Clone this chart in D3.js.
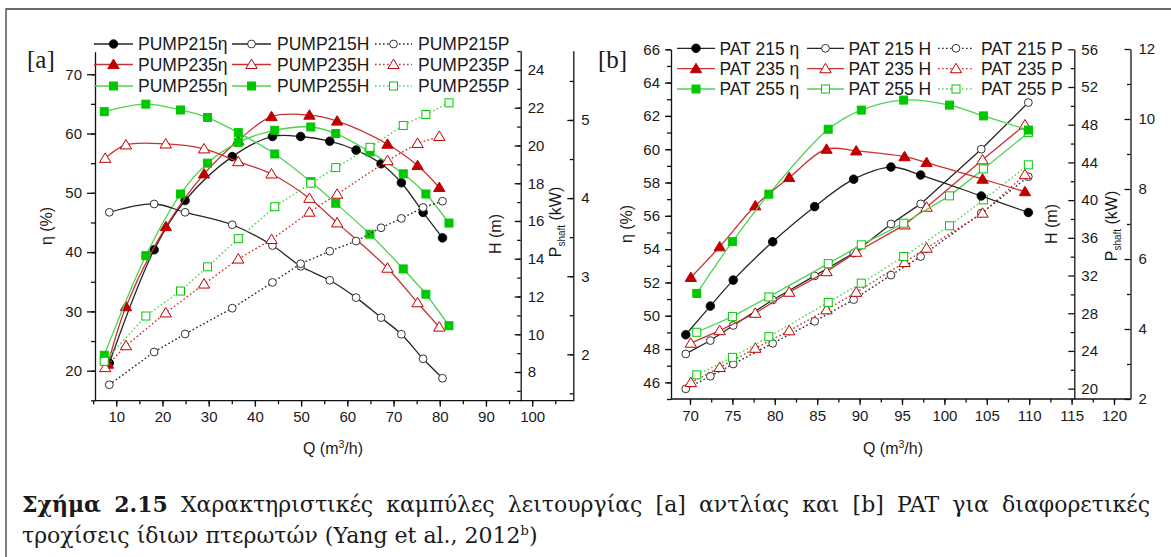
<!DOCTYPE html>
<html><head><meta charset="utf-8">
<script src="https://cdn.jsdelivr.net/npm/d3@7"></script>
<style>
body{margin:0;background:#fff;}
svg{display:block;}
text{font-family:"Liberation Sans",Arial,sans-serif;fill:#1a1a1a;}
text.serif{font-family:"Liberation Serif","Times New Roman",serif;}
text.cap{font-family:"DejaVu Serif","Liberation Serif",serif;}
</style>
</head><body>
<svg id="c" width="1171" height="557"></svg>
<script>
// ---------------- DATA: panel [a] pump ----------------
const qPump215 = [8.5, 18.2, 24.9, 35.1, 43.8, 49.9, 56.2, 61.9, 67.3, 71.7, 76.4, 80.6];
const etaPump215 = [21.3, 40.4, 48.7, 56.1, 59.5, 59.5, 58.7, 57.2, 54.9, 51.7, 46.7, 42.4];
const hPump215 = [16.46, 16.9, 16.46, 15.8, 14.7, 13.6, 12.86, 11.94, 10.88, 10.0, 8.7, 7.67];
const pPump215 = [1.61, 2.03, 2.26, 2.59, 2.92, 3.16, 3.32, 3.45, 3.62, 3.74, 3.88, 3.96];

const qPump235Eta = [8.2, 12.1, 20.75, 29.0, 36.4, 43.6, 51.8, 57.8, 68.7, 75.2, 79.9];
const etaPump235 = [21.1, 30.8, 44.3, 53.2, 58.8, 62.85, 63.1, 62.1, 58.2, 54.6, 50.9];
const qPump235 = [7.6, 12.1, 20.7, 29.0, 36.4, 43.6, 51.8, 57.8, 68.7, 75.2, 79.9];
const hPump235 = [19.32, 20.03, 20.08, 19.82, 19.14, 18.49, 17.2, 15.9, 13.5, 11.67, 10.38];
const pPump235 = [1.83, 2.11, 2.53, 2.90, 3.22, 3.47, 3.82, 4.05, 4.48, 4.70, 4.79];

const qPump255 = [7.4, 16.4, 23.9, 29.75, 36.4, 44.3, 52.1, 57.5, 64.9, 72.1, 77.0, 82.0];
const etaPump255 = [22.6, 39.4, 49.8, 55.0, 58.5, 60.55, 61.1, 60.0, 56.9, 53.2, 49.8, 44.9];
const hPump255 = [21.79, 22.19, 21.88, 21.48, 20.68, 19.55, 18.08, 16.94, 15.3, 13.46, 12.12, 10.45];
const pPump255 = [1.91, 2.49, 2.81, 3.12, 3.48, 3.89, 4.19, 4.39, 4.65, 4.93, 5.07, 5.22];

// ---------------- DATA: panel [b] PAT ----------------
const qPat215 = [69.5, 72.4, 75.1, 79.75, 84.7, 89.3, 93.7, 97.2, 104.35, 109.9];
const etaPat215 = [48.86, 50.58, 52.14, 54.44, 56.55, 58.2, 58.93, 58.45, 57.19, 56.2];
const hPat215 = [23.68, 25.1, 26.7, 29.41, 31.96, 34.37, 37.47, 39.6, 45.4, 50.35];
const pPat215 = [2.29, 2.65, 3.0, 3.59, 4.22, 4.84, 5.54, 6.07, 7.31, 8.35];

const qPat235 = [70.1, 73.5, 77.7, 81.7, 86.1, 89.6, 95.3, 97.9, 104.5, 109.5];
const etaPat235 = [52.3, 54.14, 56.6, 58.3, 60.0, 59.9, 59.55, 59.2, 58.2, 57.45];
const hPat235 = [24.82, 26.15, 28.0, 30.23, 32.41, 34.47, 37.37, 39.25, 44.27, 47.98];
const pPat235 = [2.47, 2.90, 3.45, 3.95, 4.55, 5.05, 5.90, 6.31, 7.31, 8.41];

const qPat255 = [70.8, 75.0, 79.3, 86.3, 90.2, 95.2, 100.6, 104.6, 109.9];
const etaPat255 = [51.34, 54.45, 57.3, 61.2, 62.35, 62.95, 62.65, 62.0, 61.15];
const hPat255 = [25.98, 27.64, 29.73, 33.26, 35.25, 37.55, 40.45, 43.31, 47.16];
const pPat255 = [2.69, 3.19, 3.78, 4.76, 5.31, 6.07, 6.95, 7.69, 8.69];

// ---------------- tick labels ----------------
const xTicksA = [10, 20, 30, 40, 50, 60, 70, 80, 90, 100];
const etaTicksA = [20, 30, 40, 50, 60, 70];
const hTicksA = [8, 10, 12, 14, 16, 18, 20, 22, 24];
const pTicksA = [2, 3, 4, 5];
const xTicksB = [70, 75, 80, 85, 90, 95, 100, 105, 110, 115, 120];
const etaTicksB = [46, 48, 50, 52, 54, 56, 58, 60, 62, 64, 66];
const hTicksB = [20, 24, 28, 32, 36, 40, 44, 48, 52, 56];
const pTicksB = [2, 4, 6, 8, 10, 12];

const namesA = ["PUMP215η","PUMP215H","PUMP215P","PUMP235η","PUMP235H","PUMP235P","PUMP255η","PUMP255H","PUMP255P"];
const namesB = ["PAT 215 η","PAT 215 H","PAT 215 P","PAT 235 η","PAT 235 H","PAT 235 P","PAT 255 η","PAT 255 H","PAT 255 P"];

const captionLine1 = [["Σχήμα",true],["2.15",true],["Χαρακτηριστικές"],["καμπύλες"],["λειτουργίας"],["[a]"],["αντλίας"],["και"],["[b]"],["PAT"],["για"],["διαφορετικές"]];
const captionLine2 = "τροχίσεις ίδιων πτερωτών (Yang et al., 2012";

// ---------------- styles ----------------
const COL = {
  k:{line:"#262626", mark:"#000000"},
  r:{line:"#c83232", mark:"#c00000"},
  g:{line:"#4fd24f", mark:"#00c800"}
};
const fmt = d3.format("d");

const svg = d3.select("#c");
svg.append("rect").attr("width",1171).attr("height",557).attr("fill","#fff");
svg.append("path").attr("d","M6,557 V9 H1171").attr("fill","none").attr("stroke","#3a3a3a").attr("stroke-width",1.3);

function marker(g, shape, filled, c, x, y) {
  const fill = filled ? c.mark : "#fff";
  const stroke = c.mark;
  if (shape === "circle") {
    g.append("circle").attr("cx",x).attr("cy",y).attr("r",filled?4.3:3.9)
      .attr("fill",fill).attr("stroke",filled?stroke:"#333").attr("stroke-width",filled?0.8:1);
  } else if (shape === "tri") {
    const s = 5.4;
    g.append("path").attr("d",`M${x},${y-s} L${x+s*1.05},${y+s*0.75} L${x-s*1.05},${y+s*0.75} Z`)
      .attr("fill",fill).attr("stroke",stroke).attr("stroke-width",1);
  } else {
    const s = 4;
    g.append("rect").attr("x",x-s).attr("y",y-s).attr("width",2*s).attr("height",2*s)
      .attr("fill",fill).attr("stroke",stroke).attr("stroke-width",1);
  }
}

function drawPanel(cfg) {
  const g = svg.append("g");
  const {x, eta, h, p} = cfg;
  const y0 = cfg.bottom;
  g.append("g").attr("transform",`translate(0,${y0})`)
    .call(d3.axisBottom(x).tickValues(cfg.xMinor).tickFormat("").tickSize(3.5).tickSizeOuter(0))
    .call(s=>s.select(".domain").remove());
  g.append("g").attr("transform",`translate(0,${y0})`)
    .call(d3.axisBottom(x).tickValues(cfg.xTicks).tickFormat(fmt).tickSize(6).tickPadding(5).tickSizeOuter(0))
    .call(s=>s.select(".domain").attr("d",`M${x.range()[0]},0H${x.range()[1]}`));
  const xl = x.range()[0];
  g.append("g").attr("transform",`translate(${xl},0)`)
    .call(d3.axisLeft(eta).tickValues(cfg.etaMinor).tickFormat("").tickSize(4).tickSizeOuter(0))
    .call(s=>s.select(".domain").remove());
  g.append("g").attr("transform",`translate(${xl},0)`)
    .call(d3.axisLeft(eta).tickValues(cfg.etaTicks).tickFormat(fmt).tickSize(cfg.etaTick).tickPadding(5).tickSizeOuter(0));
  g.append("g").attr("transform",`translate(${cfg.hX},0)`)
    .call(d3.axisRight(h).tickValues(cfg.hMinor).tickFormat("").tickSize(-3.5).tickSizeOuter(0))
    .call(s=>s.select(".domain").remove());
  g.append("g").attr("transform",`translate(${cfg.hX},0)`)
    .call(d3.axisRight(h).tickValues(cfg.hTicks).tickFormat(fmt).tickSize(-6).tickPadding(7).tickSizeOuter(0));
  g.append("g").attr("transform",`translate(${cfg.pX},0)`)
    .call(d3.axisRight(p).tickValues(cfg.pMinor).tickFormat("").tickSize(-3.5).tickSizeOuter(0))
    .call(s=>s.select(".domain").remove());
  g.append("g").attr("transform",`translate(${cfg.pX},0)`)
    .call(d3.axisRight(p).tickValues(cfg.pTicks).tickFormat(fmt).tickSize(-6).tickPadding(8).tickSizeOuter(0));
  g.selectAll(".tick text").attr("font-size",15).attr("fill","#1a1a1a");
  g.selectAll(".domain,.tick line").attr("stroke","#111").attr("stroke-width",1.3);

  const scaleOf = {eta, h, p};
  cfg.series.forEach(s => {
    const ys = scaleOf[s.axis];
    const pts = s.q.map((q,i)=>[x(q), ys(s.v[i])]);
    const line = d3.line().curve(s.curve);
    g.append("path").attr("d",line(pts)).attr("fill","none")
      .attr("stroke",s.c.line).attr("stroke-width",s.dash?1.4:1.3)
      .attr("stroke-dasharray",s.dash?"1.6,2.4":null);
    const mg = g.append("g");
    pts.forEach(pt=>marker(mg, s.shape, s.filled, s.c, pt[0], pt[1]));
  });

  const lg = g.append("g");
  cfg.legendOrder.forEach((s, i) => {
    const col = i % 3, row = Math.floor(i/3);
    const ly = cfg.legRows[row];
    const [lx0, lx1, tx] = cfg.legCols[col];
    lg.append("line").attr("x1",lx0).attr("x2",lx1).attr("y1",ly).attr("y2",ly)
      .attr("stroke",s.c.line).attr("stroke-width",1.3).attr("stroke-dasharray",s.dash?"1.6,2.4":null);
    marker(lg, s.shape, s.filled, s.c, (lx0+lx1)/2, ly);
    lg.append("text").attr("x",tx).attr("y",ly+6.3).attr("font-size",17.5).text(s.name);
  });

  const t = g.append("g");
  t.append("text").attr("text-anchor","middle")
    .attr("transform",`translate(${cfg.etaTitle[0]},${cfg.etaTitle[1]}) rotate(-90)`).attr("dy","0.35em")
    .attr("font-size",16).text("η (%)");
  t.append("text").attr("text-anchor","middle")
    .attr("transform",`translate(${cfg.hTitle[0]},${cfg.hTitle[1]}) rotate(-90)`).attr("dy","0.35em")
    .attr("font-size",16).text("H (m)");
  const pt = t.append("text").attr("text-anchor","middle")
    .attr("transform",`translate(${cfg.pTitle[0]},${cfg.pTitle[1]}) rotate(-90)`).attr("dy","0.35em")
    .attr("font-size",16);
  pt.append("tspan").text("P");
  pt.append("tspan").attr("font-size",10).attr("dy","4").text("shaft");
  pt.append("tspan").attr("dy","-4").text(" (kW)");
  const qt = t.append("text").attr("text-anchor","middle").attr("x",cfg.qTitle[0]).attr("y",cfg.qTitle[1]).attr("font-size",16);
  qt.append("tspan").text("Q (m");
  qt.append("tspan").attr("font-size",10.5).attr("dy","-6").text("3");
  qt.append("tspan").attr("dy","6").text("/h)");
  g.append("text").attr("class","serif").attr("x",cfg.tag[0]).attr("y",cfg.tag[1]).attr("font-size",25).text(cfg.tag[2]);
}

function range(a,b,st){const r=[];for(let v=a;v<=b+1e-9;v+=st)r.push(+v.toFixed(3));return r;}

// ---------------- panel a ----------------
const xA = d3.scaleLinear().domain([5.4, 108.9]).range([95, 573.3]);
const etaA = d3.scaleLinear().domain([14.94, 73.8]).range([400.7, 51.7]);
const hA = d3.scaleLinear().domain([6.48, 25.02]).range([400.7, 50.7]);
const pA = d3.scaleLinear().domain([1.406, 5.887]).range([400.7, 50.7]);
const cr = d3.curveCatmullRom.alpha(0.5);
const mk = (name, q, v, axis, c, shape, filled, dash, curve) => ({name,q,v,axis,c:COL[c],shape,filled,dash,curve});
const serA = [
  mk(namesA[0], qPump215, etaPump215, "eta","k","circle",true,false,cr),
  mk(namesA[1], qPump215, hPump215, "h","k","circle",false,false,cr),
  mk(namesA[2], qPump215, pPump215, "p","k","circle",false,true,d3.curveLinear),
  mk(namesA[3], qPump235Eta, etaPump235, "eta","r","tri",true,false,cr),
  mk(namesA[4], qPump235, hPump235, "h","r","tri",false,false,cr),
  mk(namesA[5], qPump235, pPump235, "p","r","tri",false,true,d3.curveLinear),
  mk(namesA[6], qPump255, etaPump255, "eta","g","sq",true,false,cr),
  mk(namesA[7], qPump255, hPump255, "h","g","sq",true,false,cr),
  mk(namesA[8], qPump255, pPump255, "p","g","sq",false,true,d3.curveLinear)
];
drawPanel({
  x:xA, eta:etaA, h:hA, p:pA, bottom:400.7,
  xTicks:xTicksA, xMinor:range(5,105,5),
  etaTicks:etaTicksA, etaMinor:range(15,70,5), etaTick:8,
  hTicks:hTicksA, hMinor:range(7,25,1), hX:520.7,
  pTicks:pTicksA, pMinor:range(1.5,5.5,0.5), pX:573.3,
  series:[serA[0],serA[3],serA[6],serA[1],serA[4],serA[7],serA[2],serA[5],serA[8]],
  legendOrder:serA,
  legRows:[44, 64.5, 86],
  legCols:[[94,133,138],[232,271,277],[375,412,418]],
  etaTitle:[46,226], hTitle:[495,234], pTitle:[555,222], qTitle:[333,454],
  tag:[27,68,"[a]"]
});

// ---------------- panel b ----------------
const xB = d3.scaleLinear().domain([67.76, 121.97]).range([671, 1130.7]);
const etaB = d3.scaleLinear().domain([45, 66]).range([399, 49.3]);
const hB = d3.scaleLinear().domain([18.9, 56]).range([399, 49.3]);
const pB = d3.scaleLinear().domain([2, 12]).range([399, 49]);
const serB = [
  mk(namesB[0], qPat215, etaPat215, "eta","k","circle",true,false,cr),
  mk(namesB[1], qPat215, hPat215, "h","k","circle",false,false,d3.curveLinear),
  mk(namesB[2], qPat215, pPat215, "p","k","circle",false,true,d3.curveLinear),
  mk(namesB[3], qPat235, etaPat235, "eta","r","tri",true,false,cr),
  mk(namesB[4], qPat235, hPat235, "h","r","tri",false,false,d3.curveLinear),
  mk(namesB[5], qPat235, pPat235, "p","r","tri",false,true,d3.curveLinear),
  mk(namesB[6], qPat255, etaPat255, "eta","g","sq",true,false,cr),
  mk(namesB[7], qPat255, hPat255, "h","g","sq",false,false,d3.curveLinear),
  mk(namesB[8], qPat255, pPat255, "p","g","sq",false,true,d3.curveLinear)
];
drawPanel({
  x:xB, eta:etaB, h:hB, p:pB, bottom:399,
  xTicks:xTicksB, xMinor:range(67.5,120,2.5).filter(v=>v>=67.76),
  etaTicks:etaTicksB, etaMinor:range(45,66,1), etaTick:6,
  hTicks:hTicksB, hMinor:range(22,54,4), hX:1074.3,
  pTicks:pTicksB, pMinor:range(3,11,2), pX:1130.5,
  series:[serB[2],serB[5],serB[8],serB[1],serB[4],serB[7],serB[0],serB[3],serB[6]],
  legendOrder:serB,
  legRows:[48.3, 68.7, 89],
  legCols:[[677,715,719.5],[807,844,848.5],[938,974,981]],
  etaTitle:[626,224], hTitle:[1051,224], pTitle:[1111,226], qTitle:[893,454],
  tag:[598,68,"[b]"]
});

// ---------------- caption (serif, justified first line) ----------------
const cap = svg.append("g").attr("transform","translate(22,0)");
const nodes = captionLine1.map(w => cap.append("text").attr("class","cap").attr("y",512).attr("font-size",22)
  .attr("font-weight",w[1]?"bold":"normal").text(w[0]));
const widths = nodes.map(n=>n.node().getComputedTextLength());
const avail = 1150 - 22;
const gap = Math.max(4, (avail - d3.sum(widths))/(nodes.length-1));
let cx = 0;
nodes.forEach((n,i)=>{n.attr("x",cx); cx += widths[i] + gap;});
const l2 = cap.append("text").attr("class","cap").attr("x",0).attr("y",543).attr("font-size",22);
l2.append("tspan").text(captionLine2);
l2.append("tspan").attr("font-size",13).attr("dy",-8).text("b");
l2.append("tspan").attr("dy",8).text(")");
</script>
</body></html>
